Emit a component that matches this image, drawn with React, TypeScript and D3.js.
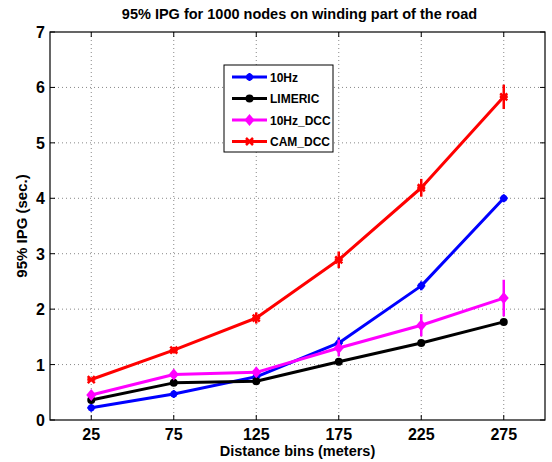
import React from "react";
import * as d3 from "d3";

const bins = [25, 75, 125, 175, 225, 275];
const hz10 = [0.22, 0.47, 0.78, 1.39, 2.42, 4.0];
const hz10Err = [0.04, 0.04, 0.05, 0.1, 0.08, 0.05];
const limeric = [0.36, 0.67, 0.7, 1.05, 1.39, 1.77];
const limericErr = [0.02, 0.02, 0.03, 0.03, 0.03, 0.03];
const hz10dcc = [0.45, 0.82, 0.86, 1.3, 1.71, 2.2];
const hz10dccErr = [0.03, 0.05, 0.06, 0.15, 0.2, 0.33];
const camdcc = [0.73, 1.26, 1.84, 2.89, 4.19, 5.83];
const camdccErr = [0.03, 0.06, 0.1, 0.15, 0.16, 0.22];
const seriesNames = ["10Hz", "LIMERIC", "10Hz_DCC", "CAM_DCC"];
const colors = ["#0000ff", "#000000", "#ff00ff", "#ff0000"];
const yTicks = [0, 1, 2, 3, 4, 5, 6, 7];

const series = [
  { name: seriesNames[0], vals: hz10, err: hz10Err, color: colors[0], marker: "star" },
  { name: seriesNames[1], vals: limeric, err: limericErr, color: colors[1], marker: "circle" },
  { name: seriesNames[2], vals: hz10dcc, err: hz10dccErr, color: colors[2], marker: "diamond" },
  { name: seriesNames[3], vals: camdcc, err: camdccErr, color: colors[3], marker: "x" },
];

const L = 50, R = 545, T = 32, B = 420;
const font = "'Liberation Sans', Arial, Helvetica, sans-serif";

function Marker({ type, x, y, color }: { type: string; x: number; y: number; color: string }) {
  if (type === "circle") return <circle cx={x} cy={y} r={4} fill={color} />;
  if (type === "diamond")
    return <path d={`M${x},${y - 6}L${x + 5},${y}L${x},${y + 6}L${x - 5},${y}Z`} fill={color} />;
  if (type === "star")
    return (
      <g>
        <circle cx={x} cy={y} r={3.5} fill={color} />
        <path d={`M${x - 4},${y}H${x + 4}M${x},${y - 4}V${y + 4}`} stroke={color} strokeWidth={2} />
      </g>
    );
  return (
    <path d={`M${x - 3.5},${y - 3.5}L${x + 3.5},${y + 3.5}M${x - 3.5},${y + 3.5}L${x + 3.5},${y - 3.5}M${x - 4},${y}H${x + 4}`} stroke={color} strokeWidth={2.5} />
  );
}

export default function App() {
  const x = d3.scaleLinear().domain([0, 300]).range([L, R]);
  const y = d3.scaleLinear().domain([0, 7]).range([B, T]);
  const line = d3
    .line<number>()
    .x((_, i) => x(bins[i]))
    .y((d) => y(d));

  return (
    <svg width={552} height={462} style={{ position: "absolute", left: 0, top: 0, background: "#fff" }}>
      <rect x={0} y={0} width={552} height={462} fill="#fff" />
      {/* grid */}
      {bins.map((b) => (
        <line key={"gx" + b} x1={x(b)} x2={x(b)} y1={T} y2={B} stroke="#888" strokeWidth={1} strokeDasharray="1,3" />
      ))}
      {yTicks.slice(1, -1).map((t) => (
        <line key={"gy" + t} x1={L} x2={R} y1={y(t)} y2={y(t)} stroke="#888" strokeWidth={1} strokeDasharray="1,3" />
      ))}
      {/* ticks */}
      {bins.map((b) => (
        <g key={"tx" + b}>
          <line x1={x(b)} x2={x(b)} y1={B} y2={B - 5} stroke="#000" />
          <line x1={x(b)} x2={x(b)} y1={T} y2={T + 5} stroke="#000" />
          <text x={x(b)} y={B + 20} textAnchor="middle" fontFamily={font} fontWeight="bold" fontSize={16}>
            {b}
          </text>
        </g>
      ))}
      {yTicks.map((t) => (
        <g key={"ty" + t}>
          <line x1={L} x2={L + 5} y1={y(t)} y2={y(t)} stroke="#000" />
          <line x1={R} x2={R - 5} y1={y(t)} y2={y(t)} stroke="#000" />
          <text x={L - 5} y={y(t) + 6} textAnchor="end" fontFamily={font} fontWeight="bold" fontSize={16}>
            {t}
          </text>
        </g>
      ))}
      <rect x={L} y={T} width={R - L} height={B - T} fill="none" stroke="#000" strokeWidth={1.2} />
      {/* series */}
      {series.map((s) => (
        <g key={s.name}>
          <path d={line(s.vals) || ""} fill="none" stroke={s.color} strokeWidth={3} strokeLinejoin="round" />
          {s.vals.map((v, i) => (
            <g key={i}>
              <line x1={x(bins[i])} x2={x(bins[i])} y1={y(v - s.err[i])} y2={y(v + s.err[i])} stroke={s.color} strokeWidth={2.5} />
              <Marker type={s.marker} x={x(bins[i])} y={y(v)} color={s.color} />
            </g>
          ))}
        </g>
      ))}
      {/* legend */}
      <rect x={224} y={65} width={109} height={87} fill="#fff" stroke="#000" strokeWidth={1} />
      {series.map((s, i) => {
        const ly = 77 + i * 21.5;
        return (
          <g key={"lg" + s.name}>
            <line x1={232} x2={267} y1={ly} y2={ly} stroke={s.color} strokeWidth={3} />
            <Marker type={s.marker} x={249.5} y={ly} color={s.color} />
            <text x={270} y={ly + 4.5} fontFamily={font} fontWeight="bold" fontSize={12}>
              {s.name}
            </text>
          </g>
        );
      })}
      {/* titles */}
      <text x={(L + R) / 2 + 2} y={19} textAnchor="middle" fontFamily={font} fontWeight="bold" fontSize={14.5}>
        95% IPG for 1000 nodes on winding part of the road
      </text>
      <text x={(L + R) / 2} y={456} textAnchor="middle" fontFamily={font} fontWeight="bold" fontSize={14.5}>
        Distance bins (meters)
      </text>
      <text
        transform={`translate(27,${(T + B) / 2}) rotate(-90)`}
        textAnchor="middle"
        fontFamily={font}
        fontWeight="bold"
        fontSize={15}
      >
        95% IPG (sec.)
      </text>
    </svg>
  );
}
